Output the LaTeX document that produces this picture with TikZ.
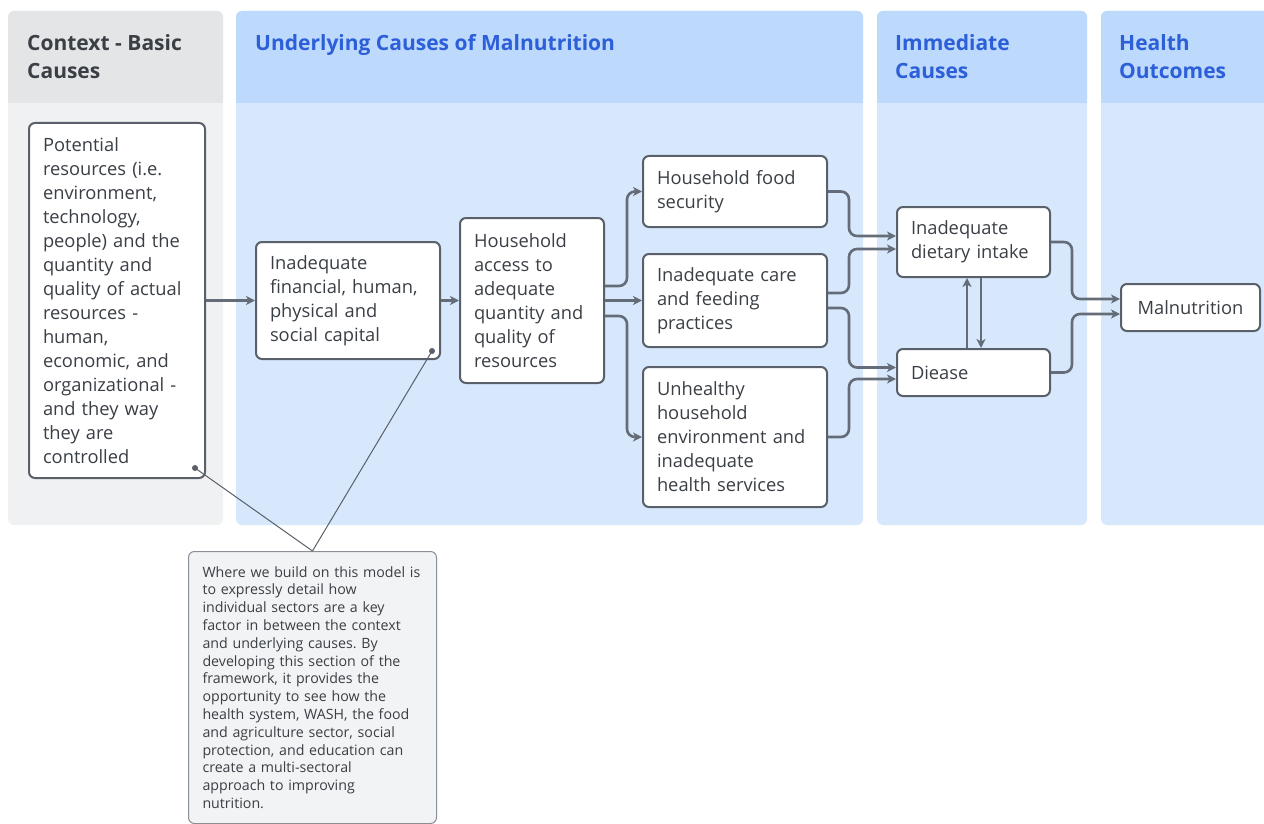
\documentclass[tikz,border=0pt]{standalone}
\usepackage{fontspec}
\setmainfont{Open Sans}
\usetikzlibrary{arrows.meta,calc}
\frenchspacing
\definecolor{ghdr}{HTML}{E4E5E7}
\definecolor{gbody}{HTML}{F0F1F2}
\definecolor{bhdr}{HTML}{BDD9FB}
\definecolor{bbody}{HTML}{D7E8FD}
\definecolor{btxt}{HTML}{2C5FD8}
\definecolor{dtxt}{HTML}{3A3F45}
\definecolor{bord}{HTML}{596069}
\definecolor{arrc}{HTML}{646C78}
\definecolor{notefill}{HTML}{F2F3F4}
\definecolor{notebord}{HTML}{8A8F95}
\tikzset{
  box/.style={draw=bord, line width=2pt, fill=white, rounded corners=6pt, anchor=north west,
    align=left, inner sep=0pt, text=dtxt, font=\fontsize{18.3}{24}\selectfont},
  hdr/.style={anchor=north west, align=left, inner sep=0pt, font=\fontsize{21}{28}\selectfont\bfseries},
  arr/.style={draw=arrc, line width=2.6pt, rounded corners=8pt,
    -{Stealth[length=9pt,width=9pt,inset=2.5pt]}},
  callout/.style={draw=bord, line width=1pt},
  dotc/.style={circle, fill=bord, inner sep=0pt, minimum size=6pt},
  notebox/.style={draw=notebord, line width=1pt, fill=notefill, rounded corners=6pt, anchor=north west,
    align=left, inner sep=0pt, text=dtxt, font=\fontsize{14.2}{17.8}\selectfont}
}
\begin{document}
\begin{tikzpicture}[x=1pt,y=-1pt]
\useasboundingbox (0,0) rectangle (1264,824);
\fill[white] (0,0) rectangle (1264,824);
% columns
\fill[gbody, rounded corners=6pt] (8,11) rectangle (223,525);
\fill[ghdr, rounded corners=6pt] (8,11) rectangle (223,103);
\fill[ghdr] (8,60) rectangle (223,103);
\fill[bbody, rounded corners=6pt] (236,11) rectangle (863,525);
\fill[bhdr, rounded corners=6pt] (236,11) rectangle (863,103);
\fill[bhdr] (236,60) rectangle (863,103);
\fill[bbody, rounded corners=6pt] (877,11) rectangle (1087,525);
\fill[bhdr, rounded corners=6pt] (877,11) rectangle (1087,103);
\fill[bhdr] (877,60) rectangle (1087,103);
\fill[bbody, rounded corners=6pt] (1101,11) rectangle (1280,525);
\fill[bhdr, rounded corners=6pt] (1101,11) rectangle (1280,103);
\fill[bhdr] (1101,60) rectangle (1280,103);
% headers
\node[hdr, text=dtxt] (h1) at (27,34) {Context - Basic\\Causes};
\node[hdr, text=btxt] (h2) at (255,34) {Underlying Causes of Malnutrition};
\node[hdr, text=btxt] (h3) at (895,34) {Immediate\\Causes};
\node[hdr, text=btxt] (h4) at (1119,34) {Health\\Outcomes};
% boxes
\node[box, minimum width=176pt, minimum height=355pt, text width=148pt] (A) at (28,122)
  {Potential\\resources (i.e.\\environment,\\technology,\\people) and the\\quantity and\\quality of actual\\resources -\\human,\\economic, and\\organizational -\\and they way\\they are\\controlled};
\node[box, minimum width=184pt, minimum height=117pt, text width=156pt] (B) at (255,241)
  {Inadequate\\financial, human,\\physical and\\social capital};
\node[box, minimum width=144pt, minimum height=165pt, text width=116pt] (C) at (459,217)
  {Household\\access to\\adequate\\quantity and\\quality of\\resources};
\node[box, minimum width=184pt, minimum height=71pt, text width=156pt] (D) at (642,155)
  {Household food\\security};
\node[box, minimum width=184pt, minimum height=93pt, text width=156pt] (E) at (642,253)
  {Inadequate care\\and feeding\\practices};
\node[box, minimum width=184pt, minimum height=140pt, text width=156pt] (F) at (642,366)
  {Unhealthy\\household\\environment and\\inadequate\\health services};
\node[box, minimum width=153pt, minimum height=70pt, text width=125pt] (G) at (896,206)
  {Inadequate\\dietary intake};
\node[box, minimum width=153pt, minimum height=47pt, text width=125pt] (H) at (896,348)
  {Diease};
\node[box, minimum width=139pt, minimum height=47pt, align=center] (I) at (1120,283)
  {Malnutrition};
% note
\node[notebox, minimum width=248pt, minimum height=272pt, text width=220pt] (N) at (188,551)
  {Where we build on this model is\\to expressly detail how\\individual sectors are a key\\factor in between the context\\and underlying causes. By\\developing this section of the\\framework, it provides the\\opportunity to see how the\\health system, WASH, the food\\and agriculture sector, social\\protection, and education can\\create a multi-sectoral\\approach to improving\\nutrition.};
% arrows
\draw[arr] (A.east |- B.west) -- (B.west);
\draw[arr] (B.east) -- (B.east -| C.west);
\draw[arr] (C.east |- E.west) -- (E.west);
\draw[arr] ($(C.east)+(0,-14.5)$) -| ($(C.east)+(22,-60)$) |- (D.west);
\draw[arr] ($(C.east)+(0,15.5)$) -| ($(C.east)+(22,80)$) |- (F.west);
\draw[arr] (D.east) -| ($(D.east)+(21,25)$) |- ($(G.west)+(0,-6)$);
\draw[arr] ($(E.east)+(0,-7.5)$) -| ($(E.east)+(21,-30)$) |- ($(G.west)+(0,7)$);
\draw[arr] ($(E.east)+(0,7.5)$) -| ($(E.east)+(21,40)$) |- ($(H.west)+(0,-5)$);
\draw[arr] (F.east) -| ($(F.east)+(21,-40)$) |- ($(H.west)+(0,6.5)$);
\draw[arr] ($(H.north)+(-6.5,0)$) -- ($(G.south)+(-6.5,0)$);
\draw[arr] ($(G.south)+(7.5,0)$) -- ($(H.north)+(7.5,0)$);
\draw[arr] (G.east) -| ($(G.east)+(21,40)$) |- ($(I.west)+(0,-8.5)$);
\draw[arr] (H.east) -| ($(H.east)+(21,-40)$) |- ($(I.west)+(0,6.5)$);
% callouts
\node[dotc] (d1) at ($(A.south east)+(-11,-11)$) {};
\node[dotc] (d2) at ($(B.south east)+(-9,-9)$) {};
\draw[callout] (d1.center) -- (N.north);
\draw[callout] (d2.center) -- (N.north);
\end{tikzpicture}
\end{document}
